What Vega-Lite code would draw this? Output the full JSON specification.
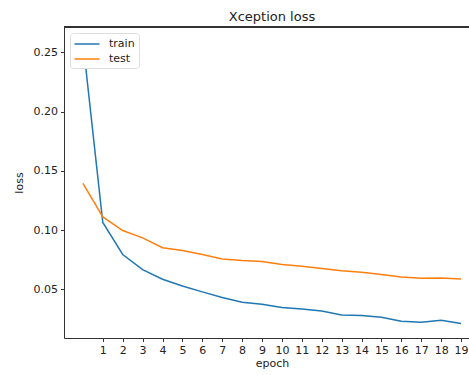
{
  "$schema": "https://vega.github.io/schema/vega-lite/v6.json",
  "width": 405,
  "height": 311,
  "autosize": {"type": "none"},
  "padding": {"left": 64, "top": 27, "right": 0, "bottom": 37},
  "background": "white",
  "config": {
    "view": {"stroke": null},
    "font": "DejaVu Sans",
    "axis": {"labelFont": "DejaVu Sans", "titleFont": "DejaVu Sans", "labelFontSize": 11, "titleFontSize": 11, "titleFontWeight": "normal", "labelColor": "#222", "titleColor": "#222", "domainColor": "#333", "tickColor": "#333", "tickSize": 3.5, "grid": false, "labelPadding": 3}
  },
  "title": {"text": "Xception loss", "fontSize": 13, "fontWeight": "normal", "font": "DejaVu Sans", "color": "#222", "anchor": "middle", "dx": 5.5, "offset": 3},
  "data": {"values": [
    {"epoch": 0, "loss": 0.259, "series": "train"},
    {"epoch": 1, "loss": 0.1065, "series": "train"},
    {"epoch": 2, "loss": 0.0795, "series": "train"},
    {"epoch": 3, "loss": 0.0668, "series": "train"},
    {"epoch": 4, "loss": 0.0586, "series": "train"},
    {"epoch": 5, "loss": 0.053, "series": "train"},
    {"epoch": 6, "loss": 0.048, "series": "train"},
    {"epoch": 7, "loss": 0.0432, "series": "train"},
    {"epoch": 8, "loss": 0.0392, "series": "train"},
    {"epoch": 9, "loss": 0.0376, "series": "train"},
    {"epoch": 10, "loss": 0.0348, "series": "train"},
    {"epoch": 11, "loss": 0.0336, "series": "train"},
    {"epoch": 12, "loss": 0.0319, "series": "train"},
    {"epoch": 13, "loss": 0.0285, "series": "train"},
    {"epoch": 14, "loss": 0.028, "series": "train"},
    {"epoch": 15, "loss": 0.0266, "series": "train"},
    {"epoch": 16, "loss": 0.0232, "series": "train"},
    {"epoch": 17, "loss": 0.0224, "series": "train"},
    {"epoch": 18, "loss": 0.024, "series": "train"},
    {"epoch": 19, "loss": 0.0213, "series": "train"},
    {"epoch": 0, "loss": 0.1394, "series": "test"},
    {"epoch": 1, "loss": 0.1112, "series": "test"},
    {"epoch": 2, "loss": 0.0997, "series": "test"},
    {"epoch": 3, "loss": 0.0935, "series": "test"},
    {"epoch": 4, "loss": 0.0852, "series": "test"},
    {"epoch": 5, "loss": 0.0829, "series": "test"},
    {"epoch": 6, "loss": 0.0795, "series": "test"},
    {"epoch": 7, "loss": 0.0758, "series": "test"},
    {"epoch": 8, "loss": 0.0744, "series": "test"},
    {"epoch": 9, "loss": 0.0736, "series": "test"},
    {"epoch": 10, "loss": 0.0711, "series": "test"},
    {"epoch": 11, "loss": 0.0696, "series": "test"},
    {"epoch": 12, "loss": 0.0677, "series": "test"},
    {"epoch": 13, "loss": 0.0657, "series": "test"},
    {"epoch": 14, "loss": 0.0646, "series": "test"},
    {"epoch": 15, "loss": 0.0626, "series": "test"},
    {"epoch": 16, "loss": 0.0606, "series": "test"},
    {"epoch": 17, "loss": 0.0595, "series": "test"},
    {"epoch": 18, "loss": 0.0597, "series": "test"},
    {"epoch": 19, "loss": 0.0589, "series": "test"}
  ]},
  "layer": [
    {
      "mark": {"type": "line", "strokeWidth": 1.5, "clip": true},
      "encoding": {
        "x": {"field": "epoch", "type": "quantitative", "scale": {"domain": [-0.95, 19.4], "nice": false, "zero": false},
          "axis": {"values": [1,2,3,4,5,6,7,8,9,10,11,12,13,14,15,16,17,18,19], "title": "epoch", "titleX": 208, "titlePadding": 2}},
        "y": {"field": "loss", "type": "quantitative", "scale": {"domain": [0.0091, 0.2713], "nice": false, "zero": false},
          "axis": {"values": [0.05, 0.1, 0.15, 0.2, 0.25], "format": ".2f", "title": "loss", "titlePadding": 9}},
        "color": {"field": "series", "type": "nominal", "sort": ["train", "test"],
          "scale": {"domain": ["train", "test"], "range": ["#1f77b4", "#ff7f0e"]},
          "legend": {"title": null, "orient": "top-left", "offset": 6, "symbolType": "M-2,0H2", "symbolStrokeWidth": 1.5, "symbolSize": 156, "symbolOffset": 6, "labelFontSize": 11, "labelFont": "DejaVu Sans", "labelColor": "#222", "labelOffset": 15, "strokeColor": "#ddd", "fillColor": "white", "padding": 4, "cornerRadius": 3, "rowPadding": 3}}
      }
    },
    {
      "mark": {"type": "rule", "color": "#333", "strokeWidth": 1},
      "encoding": {"y": {"datum": 0.2713, "type": "quantitative"}}
    }
  ]
}
